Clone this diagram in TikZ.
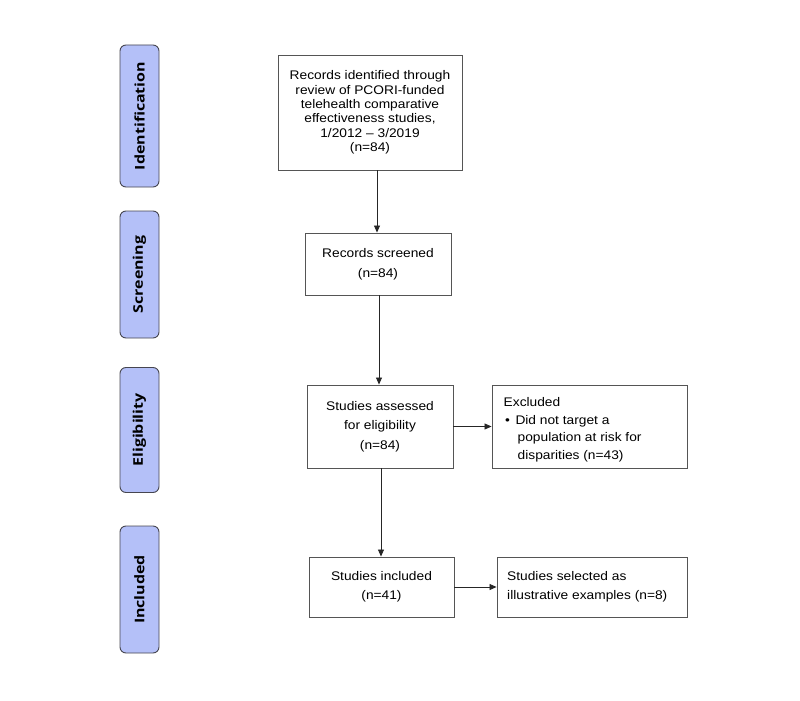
\documentclass[tikz,border=0pt]{standalone}
\usepackage{fontspec}
\setmainfont[FakeStretch=1.1]{Liberation Sans}
\newfontfamily\labfont[FakeStretch=1.2]{Open Sans}
\usetikzlibrary{arrows.meta}
\definecolor{sidefill}{RGB}{180,192,248}
\definecolor{sidedraw}{RGB}{70,70,80}
\definecolor{boxdraw}{RGB}{85,85,85}
\tikzset{
  sidebox/.style={draw=sidedraw, line width=0.9pt, fill=sidefill, rounded corners=6pt, minimum width=39pt, inner sep=0pt},
  sidetext/.style={rotate=90, font=\labfont\bfseries\fontsize{13.3}{15}\selectfont},
  flowbox/.style={draw=boxdraw, line width=0.9pt, inner sep=0pt, align=center, font=\fontsize{12.5}{#1}\selectfont},
  flowbox/.default=14.3,
  plainbox/.style={draw=boxdraw, line width=0.9pt, inner sep=0pt},
  flowtext/.style={align=left, inner sep=0pt, font=\fontsize{12.5}{#1}\selectfont},
  arr/.style={-{Triangle[length=7pt,width=6pt]}, line width=0.8pt, draw=black!85}
}
\begin{document}
\begin{tikzpicture}[x=1pt,y=-1pt]
\useasboundingbox (0,0) rectangle (800,701);
% side labels
\node[sidebox, minimum height=142pt] (sid) at (139.5,116) {};
\node[sidetext] at (sid) {Identification};
\node[sidebox, minimum height=127pt] (sscr) at (139.5,274.5) {};
\node[sidetext] at (sscr) {Screening};
\node[sidebox, minimum height=125pt] (sel) at (139.5,430) {};
\node[sidetext] at (sel) {Eligibility};
\node[sidebox, minimum height=127pt] (sinc) at (139.5,589.5) {};
\node[sidetext] at (sinc) {Included};
% flow boxes
\node[flowbox, minimum width=184pt, minimum height=115pt] (b1) at (370,112.5)
  {Records identified through\\review of PCORI-funded\\telehealth comparative\\effectiveness studies,\\1/2012 -- 3/2019\\(n=84)};
\node[flowbox=20, minimum width=146pt, minimum height=62pt] (b2) at (378,264)
  {Records screened\\(n=84)};
\node[flowbox=19.5, minimum width=146pt, minimum height=83pt] (b3) at (380,426.5)
  {Studies assessed\\for eligibility\\(n=84)};
\node[plainbox, minimum width=195pt, minimum height=83pt] (ex) at (589.5,426.5) {};
\node[flowtext=17.5, anchor=west] (ext) at (503.5,430)
  {Excluded\\\hspace{1.5pt}\textbullet\hspace{5.5pt}Did not target a\\\hspace{14pt}population at risk for\\\hspace{14pt}disparities (n=43)};
\node[flowbox=18.5, minimum width=145pt, minimum height=60pt] (b4) at (381.5,587)
  {Studies included\\(n=41)};
\node[plainbox, minimum width=190pt, minimum height=60pt] (b5) at (592,587) {};
\node[flowtext=19, anchor=west] (b5t) at (507,587)
  {Studies selected as\\illustrative examples (n=8)};
% connectors
\coordinate (c1) at (377,0);
\coordinate (c2) at (379,0);
\coordinate (c3) at (381,0);
\draw[arr] (c1 |- b1.south) -- (c1 |- b2.north);
\draw[arr] (c2 |- b2.south) -- (c2 |- b3.north);
\draw[arr] (c3 |- b3.south) -- (c3 |- b4.north);
\draw[arr] (b3.east) -- (ex.west);
\draw[arr] (b4.east) -- (b5.west);
\end{tikzpicture}
\end{document}
